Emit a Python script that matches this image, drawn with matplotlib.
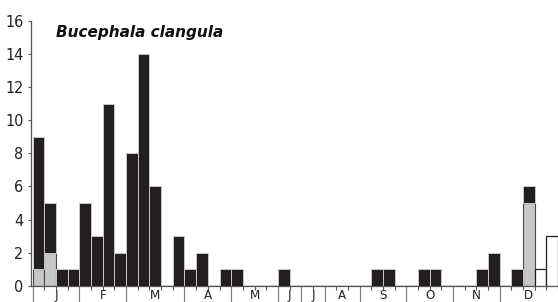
import matplotlib
matplotlib.use("Agg")
import matplotlib.pyplot as plt
import numpy as np
from matplotlib.transforms import blended_transform_factory

months = ["J", "F", "M", "A", "M", "J", "J", "A", "S", "O", "N", "D"]
slots_per_month = [4, 4, 5, 4, 4, 2, 2, 3, 4, 4, 4, 5]

# totals per slot (black+gray), gray part, white bars
totals = [9, 5, 1, 1,
          5, 3, 11, 2,
          8, 14, 6, 0, 3,
          1, 2, 0, 1,
          1, 0, 0, 0,
          1, 0,
          0, 0,
          0, 0, 0,
          0, 1, 1, 0,
          0, 1, 1, 0,
          0, 0, 1, 2,
          0, 1, 6, 0, 0]
gray = [1, 2, 0, 0,
        0, 0, 0, 0,
        0, 0, 0, 0, 0,
        0, 0, 0, 0,
        0, 0, 0, 0,
        0, 0,
        0, 0,
        0, 0, 0,
        0, 0, 0, 0,
        0, 0, 0, 0,
        0, 0, 0, 0,
        0, 0, 5, 0, 0]
white = [0] * 43 + [1, 3]

title = "Bucephala clangula"
yticks = [0, 2, 4, 6, 8, 10, 12, 14, 16]

W, H = 558, 302
fig = plt.figure(figsize=(W / 100, H / 100), dpi=100)
ax_bottom_px = 285.7
ax_h_px = 285.7 - 21
ax = fig.add_axes([31 / W, (H - ax_bottom_px) / H, (W - 31) / W, ax_h_px / H])

n = len(totals)
x = np.arange(n)
totals = np.array(totals)
gray = np.array(gray)
white = np.array(white)
black = totals - gray

ax.bar(x, gray, width=1, align="edge", color="#c6c7c9", edgecolor="#4a4a4a", linewidth=0.8, zorder=3)
ax.bar(x, black, bottom=gray, width=1, align="edge", color="#231f20", edgecolor="#c8c8c8", linewidth=0.7, zorder=3)
ax.bar(x, white, width=1, align="edge", color="white", edgecolor="#231f20", linewidth=0.9, zorder=3)

ax.set_xlim(-0.15, n)
ax.set_ylim(0, 16)

for s in ["top", "right"]:
    ax.spines[s].set_visible(False)
for s in ["left", "bottom"]:
    ax.spines[s].set_color("#555555")
    ax.spines[s].set_linewidth(0.9)

ax.set_yticks(yticks)
ax.set_yticklabels([str(v) for v in yticks], fontsize=11.5, color="#222222", fontstretch="condensed")
ax.tick_params(axis="y", length=2.5, width=0.8, color="#555555", pad=3)

bounds = np.concatenate([[0], np.cumsum(slots_per_month)])
ax.set_xticks(bounds[:-1])
ax.set_xticklabels([])
ax.set_xticks(np.arange(n + 1), minor=True)
ax.tick_params(axis="x", which="major", length=20, width=0.9, color="#808080")
ax.tick_params(axis="x", which="minor", length=3, width=0.8, color="#555555")

trans = blended_transform_factory(ax.transData, ax.transAxes)
centers = (bounds[:-1] + bounds[1:]) / 2
label_y = -(299 - ax_bottom_px) / ax_h_px
for c, m in zip(centers, months):
    ax.text(c, label_y, m, transform=trans, ha="center", va="baseline",
            fontsize=9.5, color="#222222", fontstretch="condensed")

fig.text(56 / W, 1 - 33 / H, title, ha="left", va="center",
         fontsize=11, fontweight="bold", fontstyle="italic", color="#111111")

fig.savefig("out.png", dpi=100)
